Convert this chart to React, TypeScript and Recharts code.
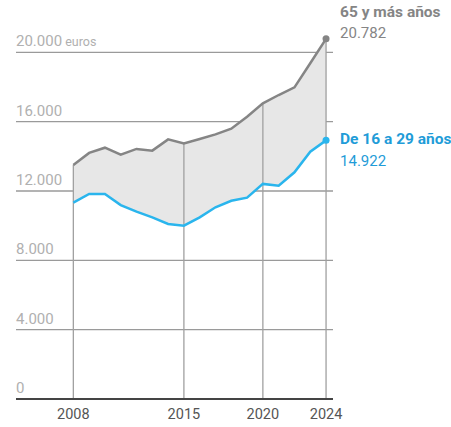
import React from 'react';
import {
  ComposedChart, Area, Line, XAxis, YAxis, CartesianGrid, ReferenceLine,
} from 'recharts';

const years = [2008, 2009, 2010, 2011, 2012, 2013, 2014, 2015, 2016, 2017, 2018, 2019, 2020, 2021, 2022, 2023, 2024];
const mayores = [13500, 14200, 14500, 14100, 14430, 14330, 14980, 14750, 15000, 15270, 15600, 16290, 17060, 17540, 17980, 19370, 20782];
const jovenes = [11330, 11830, 11830, 11190, 10810, 10480, 10100, 10000, 10480, 11060, 11440, 11620, 12410, 12310, 13080, 14270, 14922];
const yTicks = [0, 4000, 8000, 12000, 16000, 20000];
const xTicks = [2008, 2015, 2020, 2024];

const GRAY = '#858585';
const BLUE = '#2ab5ed';
const BLUE_TEXT = '#1f9cd8';
const FONT = 'Roboto, "Liberation Sans", sans-serif';

const data = years.map((year, i) => ({
  year,
  mayores: mayores[i],
  jovenes: jovenes[i],
  range: [jovenes[i], mayores[i]],
}));

const fmt = (v: number) => v.toLocaleString('de-DE');
const last = years.length - 1;

const YTick = (props: any) => {
  const { y, payload } = props;
  const isTop = payload.value === 20000;
  return (
    <text x={16} y={y - 6} fill="#b0b0b0" fontSize={15} fontFamily={FONT} textAnchor="start">
      {fmt(payload.value)}
      {isTop && <tspan fontSize={12.5}> euros</tspan>}
    </text>
  );
};

const XTick = (props: any) => {
  const { x, y, payload } = props;
  return (
    <text x={x} y={y + 12} fill="#555" fontSize={14.5} fontFamily={FONT} textAnchor="middle">
      {payload.value}
    </text>
  );
};

const endDot = (color: string, textColor: string, title: string, titleDy: number, valueDy: number) => (props: any) => {
  const { cx, cy, index, value } = props;
  if (index !== last) return <g key={`d${index}`} />;
  return (
    <g key={`d${index}`}>
      <circle cx={cx} cy={cy} r={3.5} fill={color} />
      <text x={cx + 14} y={cy + titleDy} fill={textColor} fontSize={15.5} fontWeight={700} fontFamily={FONT}>
        {title}
      </text>
      <text x={cx + 14} y={cy + valueDy} fill={textColor} fontSize={15} fontFamily={FONT}>
        {fmt(value)}
      </text>
    </g>
  );
};

export default function App() {
  return (
    <div style={{ position: 'absolute', left: 0, top: 0, background: '#fff' }}>
      <ComposedChart
        width={451}
        height={427}
        data={data}
        margin={{ top: 17.7, right: 118, bottom: 0, left: 15 }}
      >
        <CartesianGrid
          horizontal
          vertical={false}
          horizontalValues={yTicks}
          stroke="#9a9a9a"
          strokeWidth={1.3}
        />
        <XAxis
          dataKey="year"
          type="number"
          domain={[2004.37, 2024.44]}
          ticks={xTicks}
          tickLine={false}
          axisLine={{ stroke: '#444', strokeWidth: 2 }}
          tick={<XTick />}
          height={28}
        />
        <YAxis
          domain={[0, 22000]}
          ticks={yTicks}
          width={1}
          axisLine={false}
          tickLine={false}
          tick={<YTick />}
          interval={0}
        />
        <Area dataKey="range" stroke="none" fill="#e7e7e7" fillOpacity={1} isAnimationActive={false} />
        {xTicks.map((yr) => (
          <ReferenceLine
            key={yr}
            segment={[{ x: yr, y: 0 }, { x: yr, y: mayores[years.indexOf(yr)] }]}
            stroke="#a0a0a0"
            strokeWidth={1.3}
          />
        ))}
        <Line
          dataKey="mayores"
          stroke={GRAY}
          strokeWidth={2.5}
          dot={endDot(GRAY, GRAY, '65 y más años', -22, -1)}
          activeDot={false}
          isAnimationActive={false}
        />
        <Line
          dataKey="jovenes"
          stroke={BLUE}
          strokeWidth={2.5}
          dot={endDot(BLUE, BLUE_TEXT, 'De 16 a 29 años', 4, 26)}
          activeDot={false}
          isAnimationActive={false}
        />
      </ComposedChart>
    </div>
  );
}
